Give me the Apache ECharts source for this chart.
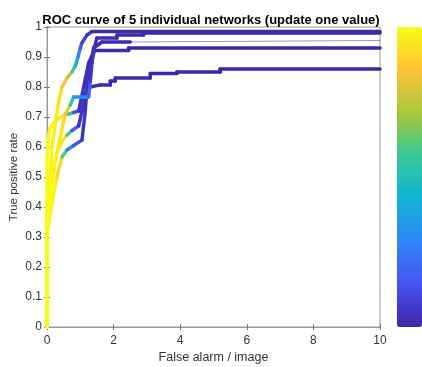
<!DOCTYPE html>
<html><head><meta charset="utf-8">
<script src="https://cdn.jsdelivr.net/npm/echarts@6/dist/echarts.min.js"></script>
<style>html,body{margin:0;padding:0;background:#fff}#c{width:422px;height:367px}</style>
</head><body><div id="c"></div>
<script>
// Each point: [false alarms per image, true positive rate, threshold (colour value)]
const netA = [[0,0,1],[0,0.38,1],[0.05,0.45,1],[0.1,0.52,0.99],[0.15,0.6,0.98],[0.25,0.68,0.97],[0.35,0.75,0.95],[0.45,0.8,0.9],[0.6,0.83,0.78],[0.75,0.85,0.7],[0.85,0.87,0.5],[0.93,0.9,0.38],[1.0,0.93,0.22],[1.05,0.947,0.12],[1.2,0.973,0.05],[1.35,0.985,0.02],[10,0.985,0]];
const netB = [[0,0,1],[0,0.36,1],[0.08,0.42,1],[0.15,0.48,0.99],[0.25,0.55,0.98],[0.35,0.61,0.97],[0.45,0.66,0.95],[0.55,0.71,0.9],[0.7,0.74,0.75],[0.8,0.767,0.35],[1.25,0.767,0.3],[1.3,0.82,0.06],[1.35,0.88,0.04],[1.42,0.93,0.03],[1.5,0.963,0.02],[2.1,0.963,0.02],[2.1,0.973,0.01],[2.9,0.973,0.01],[2.9,0.98,0],[10,0.98,0]];
const netC = [[0,0,1],[0,0.3,1],[0.08,0.37,1],[0.18,0.43,0.99],[0.3,0.5,0.97],[0.45,0.567,0.85],[0.6,0.59,0.38],[0.8,0.605,0.2],[1.05,0.623,0.06],[1.15,0.72,0.04],[1.2,0.8,0.03],[1.3,0.87,0.02],[1.4,0.93,0.02],[1.65,0.95,0.01],[2.5,0.95,0.01]];
const netCTail = [[2.5,0.95,0.01],[10,0.955,0]];
const netD = [[0,0,1],[0,0.55,1],[0.03,0.62,1],[0.08,0.66,0.99],[0.2,0.68,0.98],[0.35,0.695,0.96],[0.5,0.705,0.93],[0.65,0.71,0.85],[0.8,0.715,0.25],[0.95,0.72,0.05],[1.1,0.8,0.03],[1.25,0.88,0.02],[1.4,0.915,0.02],[1.45,0.922,0.01],[2.45,0.922,0.01],[2.45,0.93,0],[10,0.93,0]];
const netE = [[0,0,1],[0,0.4,1],[0.06,0.47,1],[0.15,0.53,0.99],[0.3,0.58,0.97],[0.45,0.62,0.95],[0.6,0.64,0.9],[0.75,0.655,0.3],[0.95,0.67,0.05],[1.05,0.72,0.04],[1.15,0.78,0.03],[1.3,0.8,0.02],[1.6,0.807,0.02],[1.9,0.807,0.01],[1.9,0.82,0.01],[2.05,0.82,0.01],[2.05,0.83,0.01],[3.1,0.83,0.01],[3.1,0.845,0],[3.9,0.845,0],[3.9,0.85,0],[5.2,0.85,0],[5.2,0.86,0],[10,0.86,0]];

const xTicks = [0,2,4,6,8,10];
const yTicks = [0,0.1,0.2,0.3,0.4,0.5,0.6,0.7,0.8,0.9,1];
const parula = ['#3e26a8','#4752f4','#2e87f7','#12b1d6','#37c897','#abc739','#fec338','#f9fb14'];

function toSegments(pts){
  const s=[];
  for(let i=0;i<pts.length-1;i++){
    s.push([pts[i][0],pts[i][1],pts[i+1][0],pts[i+1][1],(pts[i][2]+pts[i+1][2])/2]);
  }
  return s;
}
function seg(pts,w){
  return {
    type:'custom', data:toSegments(pts), encode:{x:[0,2],y:[1,3]},
    renderItem:function(params,api){
      const p1=api.coord([api.value(0),api.value(1)]);
      const p2=api.coord([api.value(2),api.value(3)]);
      return {type:'line',shape:{x1:p1[0],y1:p1[1],x2:p2[0],y2:p2[1]},
        style:{stroke:api.visual('color'),lineWidth:w,lineCap:'round',opacity:w<2?0.5:1}};
    }
  };
}
const font='"Liberation Sans", Arial, sans-serif';
const chart=echarts.init(document.getElementById('c'),null,{renderer:'canvas'});
chart.setOption({
  animation:false,
  title:{text:'ROC curve of 5 individual networks (update one value)',left:'center',top:9,
    textStyle:{fontFamily:font,fontSize:13,fontWeight:'bold',color:'#000'}},
  grid:{left:47,right:42,top:27,bottom:40,containLabel:false,outerBoundsMode:'none',
    show:true,borderColor:'#999',borderWidth:1,backgroundColor:'#fff'},
  visualMap:{type:'continuous',min:0,max:1,dimension:4,seriesIndex:[0,1,2,3,4,5],
    inRange:{color:parula},left:397,top:27,itemWidth:25,itemHeight:300,padding:0,
    calculable:false,text:['',''],showLabel:false,hoverLink:false},
  xAxis:[{type:'value',min:xTicks[0],max:xTicks[xTicks.length-1],interval:xTicks[1]-xTicks[0],
    name:'False alarm / image',nameLocation:'middle',nameGap:24,nameMoveOverlap:false,
    nameTextStyle:{fontFamily:font,fontSize:12.5,color:'#333'},
    axisLine:{lineStyle:{color:'#999'}},axisTick:{inside:true,length:3,lineStyle:{color:'#777'}},
    axisLabel:{fontFamily:font,fontSize:12,color:'#333',margin:8},splitLine:{show:false}},
    {type:'value',position:'top',min:xTicks[0],max:xTicks[xTicks.length-1],interval:xTicks[1]-xTicks[0],
    axisLine:{lineStyle:{color:'#999'}},axisTick:{inside:true,length:3,lineStyle:{color:'#777'}},
    axisLabel:{show:false},splitLine:{show:false}}],
  yAxis:[{type:'value',min:yTicks[0],max:yTicks[yTicks.length-1],interval:0.1,
    name:'True positive rate',nameLocation:'middle',nameGap:27,nameMoveOverlap:false,
    nameTextStyle:{fontFamily:font,fontSize:11.5,color:'#333'},
    axisLine:{lineStyle:{color:'#999'}},axisTick:{inside:true,length:3,lineStyle:{color:'#777'}},
    axisLabel:{fontFamily:font,fontSize:12,color:'#333',margin:5},splitLine:{show:false}},
    {type:'value',position:'right',min:yTicks[0],max:yTicks[yTicks.length-1],interval:0.1,
    axisLine:{lineStyle:{color:'#999'}},axisTick:{inside:true,length:3,lineStyle:{color:'#777'}},
    axisLabel:{show:false},splitLine:{show:false}}],
  series:[seg(netE,3.5),seg(netD,3.5),seg(netC,3.5),seg(netCTail,1.2),seg(netB,3.5),seg(netA,3.5)]
});
</script></body></html>
